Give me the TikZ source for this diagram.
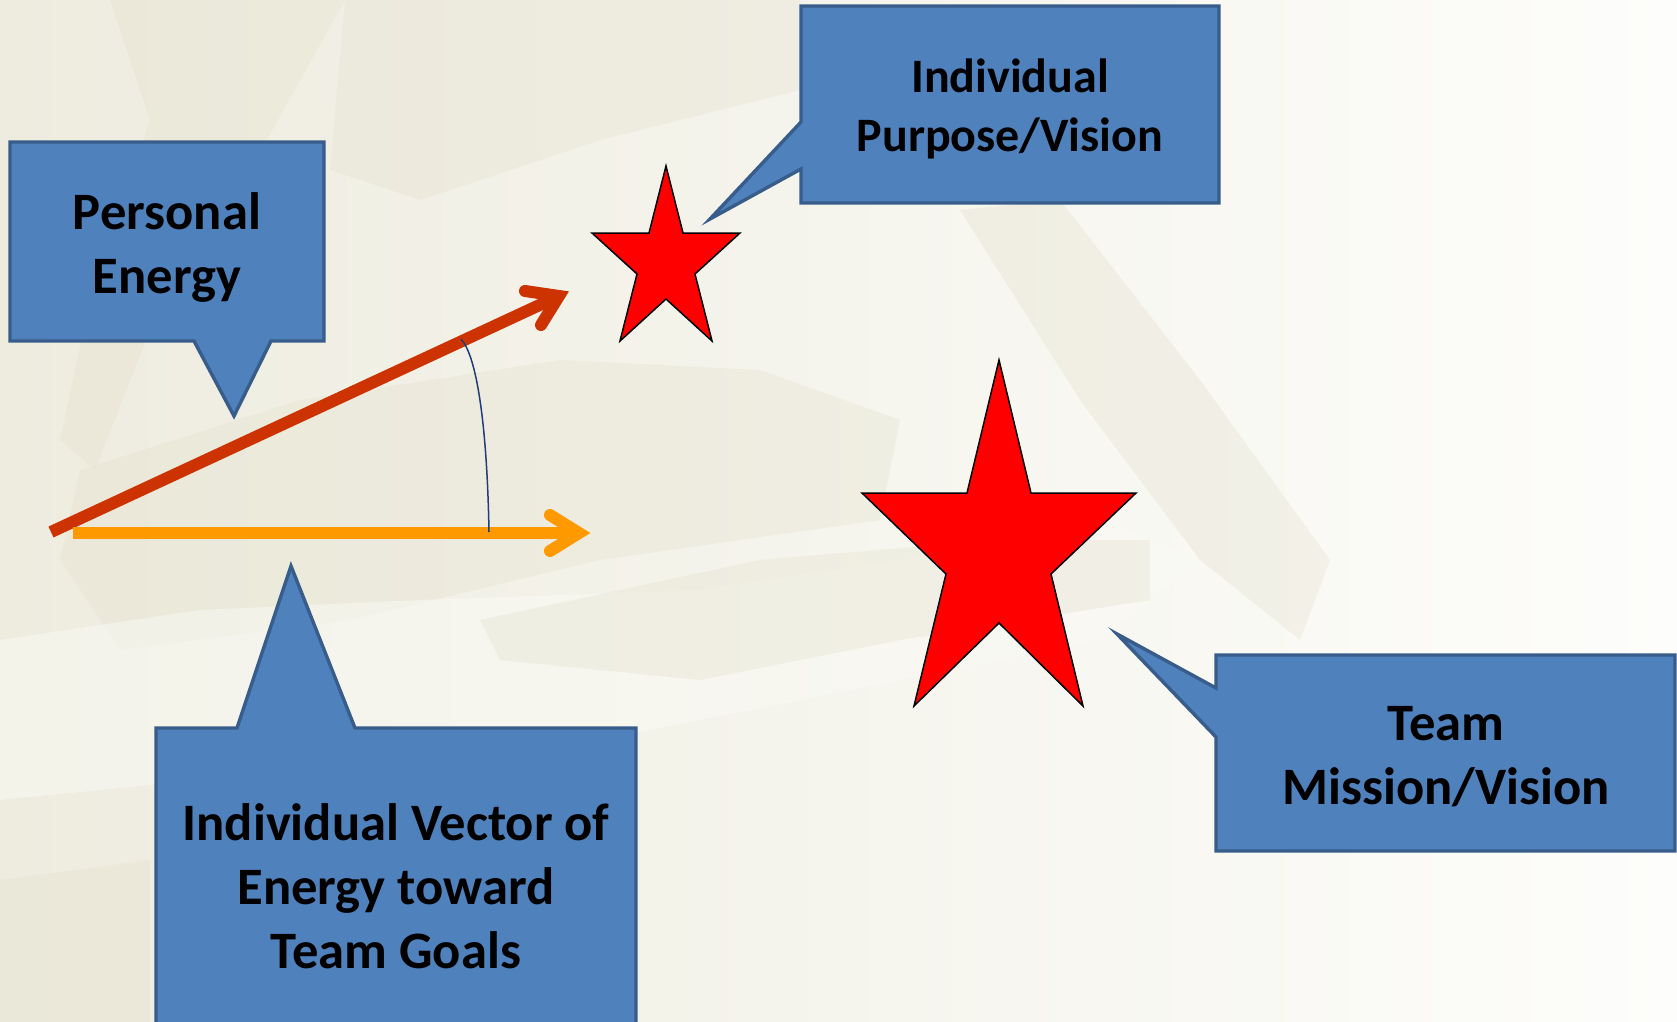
\documentclass[tikz,border=0pt]{standalone}
\usepackage{fontspec}
\setmainfont{Carlito}
\definecolor{cfill}{HTML}{4F81BD}
\definecolor{cline}{HTML}{385D8A}
\definecolor{redarrow}{HTML}{CC3300}
\definecolor{orarrow}{HTML}{FF9900}
\definecolor{arcblue}{HTML}{1F3D7A}
\definecolor{bgL}{HTML}{EEECDF}
\definecolor{bgM}{HTML}{F3F2E8}
\definecolor{bgR}{HTML}{FDFDFB}
\definecolor{bgD}{HTML}{E4E1CD}
\definecolor{bgW}{HTML}{FAFAF5}
\begin{document}
\begin{tikzpicture}[x=0.5pt,y=-0.5pt,
  callout/.style={fill=cfill,draw=cline,line width=1.7pt,line join=miter},
  lbl/.style={align=center,font=\bfseries\fontsize{26.3}{32}\selectfont,text=black,inner sep=0pt},
  lblsmall/.style={align=center,font=\bfseries\fontsize{24}{29.5}\selectfont,text=black,inner sep=0pt},
  starshape/.style={fill=red,draw=black,line width=0.75pt,line join=miter},
  vecline/.style={line width=6pt,line cap=butt},
  vechead/.style={line width=6pt,line cap=round,line join=miter,miter limit=10},
  brush/.style={fill=bgD,opacity=0.35},
  brushw/.style={fill=bgW,opacity=0.5}]
\useasboundingbox (0,0) rectangle (1677,1022);
\begin{scope}
\clip (0,0) rectangle (1677,1022);
% background
\shade[left color=bgL,middle color=bgM,right color=bgR] (0,0) rectangle (1677,1022);
\fill[brush] (110,0) -- (345,0) -- (250,170) -- (150,330) -- (95,470) -- (60,440) -- (90,300) -- (150,120) -- cycle;
\fill[brush] (345,0) -- (800,0) -- (800,90) -- (600,140) -- (420,200) -- (330,170) -- cycle;
\fill[brush] (960,210) -- (1060,200) -- (1200,380) -- (1330,560) -- (1300,640) -- (1200,560) -- (1080,400) -- cycle;
\fill[brush] (80,470) -- (300,400) -- (560,360) -- (760,370) -- (900,420) -- (880,520) -- (600,560) -- (350,620) -- (120,650) -- (60,560) -- cycle;
\fill[brushw] (0,640) -- (200,610) -- (420,600) -- (700,590) -- (900,560) -- (1100,520) -- (1200,560) -- (1100,640) -- (800,700) -- (500,760) -- (200,780) -- (0,800) -- cycle;
\fill[brush] (480,620) -- (760,560) -- (1000,540) -- (1150,540) -- (1150,600) -- (900,640) -- (700,680) -- (500,660) -- cycle;
\fill[brush] (0,880) -- (150,860) -- (150,1022) -- (0,1022) -- cycle;
\end{scope}

% stars
\draw[starshape] (666,166) -- (683,233) -- (740,233) -- (695,274) -- (712,341) -- (666,299) -- (620,341) -- (637,274) -- (592,233) -- (649,233) -- cycle;
\draw[starshape] (999,360) -- (1031,493) -- (1136,493) -- (1051,574) -- (1083,706) -- (999,623) -- (914,706) -- (946,574) -- (862,493) -- (967,493) -- cycle;

% vectors
\coordinate (rs) at (51,532);
\coordinate (rt) at (559,296);
\coordinate (ra1) at (525,291);
\coordinate (ra2) at (541,325);
\coordinate (os) at (73,533);
\coordinate (ot) at (579,533);
\coordinate (oa1) at (550,515);
\coordinate (oa2) at (550,551);
\draw[vecline,redarrow] (rs) -- (rt);
\draw[vechead,redarrow] (ra1) -- (rt) -- (ra2);
\draw[vecline,orarrow] (os) -- (ot);
\draw[vechead,orarrow] (oa1) -- (ot) -- (oa2);

% angle arc
\coordinate (arcs) at (461,339);
\coordinate (arce) at (489,532);
\draw[arcblue,line width=0.75pt] (arcs) .. controls (476,355) and (487,420) .. (arce);

% callouts
\draw[callout] (10,142) -- (324,142) -- (324,341) -- (271,341) -- (234,416) -- (194,341) -- (10,341) -- cycle;
\node[lbl] (pe) at (167,248) {Personal\\Energy};

\draw[callout] (801,6) -- (1219,6) -- (1219,203) -- (801,203) -- (801,169) -- (710,219) -- (801,122) -- cycle;
\node[lblsmall] (ipv) at (1010,109) {Individual\\Purpose/Vision};

\draw[callout] (1216,655) -- (1675,655) -- (1675,851) -- (1216,851) -- (1216,737) -- (1117,634) -- (1216,688) -- cycle;
\node[lbl] (tmv) at (1446,757) {Team\\Mission/Vision};

\draw[callout] (156,728) -- (237,728) -- (291,566) -- (355,728) -- (636,728) -- (636,1060) -- (156,1060) -- cycle;
\node[lbl] (ive) at (396,886) {Individual Vector of\\Energy toward\\Team Goals};
\end{tikzpicture}
\end{document}
